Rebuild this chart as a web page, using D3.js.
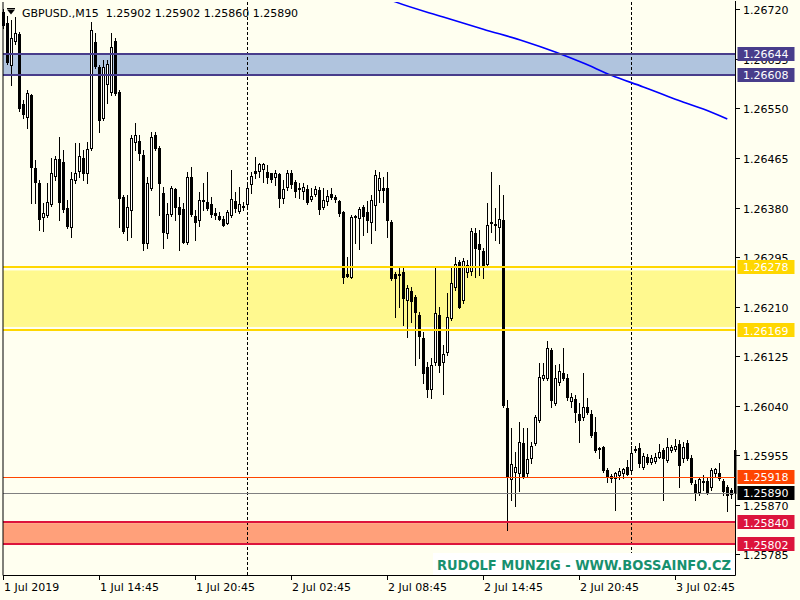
<!DOCTYPE html>
<html><head><meta charset="utf-8">
<script src="https://cdn.jsdelivr.net/npm/d3@7"></script>
<style>body{margin:0;background:#FFFFF0;}svg{display:block}</style>
</head><body>
<script>
// ---- DATA (GBPUSD M15, 1 Jul 2019 08:45 .. 3 Jul 2019 06:30) ----
const open=[1.26715,1.26697,1.26624,1.26666,1.26678,1.26557,1.26535,1.26573,1.26448,1.26422,1.26364,1.26367,1.26386,1.26434,1.26463,1.26458,1.26379,1.26346,1.26427,1.26443,1.26465,1.26439,1.26482,1.26664,1.26621,1.26533,1.26592,1.26578,1.26666,1.26578,1.26398,1.26346,1.26376,1.26492,1.26494,1.26470,1.26319,1.26413,1.26504,1.26482,1.26405,1.26336,1.26369,1.26412,1.26381,1.26377,1.26321,1.26432,1.26365,1.26358,1.26391,1.26389,1.26386,1.26370,1.26365,1.26360,1.26353,1.26367,1.26391,1.26374,1.26381,1.26386,1.26420,1.26443,1.26443,1.26446,1.26441,1.26439,1.26432,1.26437,1.26396,1.26415,1.26439,1.26424,1.26412,1.26408,1.26412,1.26394,1.26403,1.26410,1.26381,1.26391,1.26403,1.26398,1.26391,1.26372,1.26266,1.26261,1.26364,1.26362,1.26381,1.26372,1.26355,1.26384,1.26410,1.26413,1.26413,1.26355,1.26266,1.26264,1.26269,1.26221,1.26237,1.26226,1.26195,1.26156,1.26106,1.26068,1.26115,1.26195,1.26115,1.26132,1.26190,1.26243,1.26286,1.26221,1.26269,1.26271,1.26336,1.26317,1.26305,1.26283,1.26353,1.26350,1.26346,1.26358,1.26036,1.25914,1.25926,1.25924,1.25976,1.25924,1.25950,1.25976,1.26015,1.26087,1.26087,1.26135,1.26044,1.26080,1.26096,1.26087,1.26048,1.26051,1.26025,1.26020,1.26037,1.26025,1.25995,1.25965,1.25969,1.25929,1.25919,1.25916,1.25921,1.25924,1.25934,1.25929,1.25964,1.25967,1.25934,1.25952,1.25943,1.25945,1.25952,1.25964,1.25946,1.25964,1.25965,1.25974,1.25950,1.25976,1.25950,1.25905,1.25892,1.25910,1.25910,1.25900,1.25924,1.25924,1.25910,1.25900,1.25895,1.25964];
const high=[1.26721,1.26709,1.26702,1.26707,1.26681,1.26564,1.26581,1.26575,1.26461,1.26427,1.26388,1.26422,1.26465,1.26468,1.26501,1.26479,1.26393,1.26441,1.26491,1.26491,1.26479,1.26492,1.26698,1.26679,1.26624,1.26633,1.26633,1.26679,1.26671,1.26581,1.26401,1.26401,1.26504,1.26525,1.26504,1.26479,1.26432,1.26509,1.26509,1.26485,1.26415,1.26388,1.26417,1.26413,1.26398,1.26388,1.26441,1.26449,1.26376,1.26406,1.26422,1.26441,1.26398,1.26379,1.26372,1.26365,1.26376,1.26444,1.26406,1.26415,1.26389,1.26424,1.26441,1.26467,1.26456,1.26456,1.26453,1.26439,1.26444,1.26439,1.26427,1.26444,1.26444,1.26427,1.26422,1.26422,1.26418,1.26413,1.26417,1.26415,1.26413,1.26410,1.26413,1.26401,1.26393,1.26374,1.26295,1.26367,1.26367,1.26381,1.26384,1.26391,1.26401,1.26444,1.26441,1.26432,1.26441,1.26358,1.26269,1.26276,1.26276,1.26247,1.26243,1.26230,1.26201,1.26166,1.26115,1.26122,1.26276,1.26209,1.26144,1.26233,1.26276,1.26295,1.26290,1.26293,1.26290,1.26345,1.26345,1.26341,1.26310,1.26388,1.26441,1.26379,1.26418,1.26401,1.26049,1.26001,1.25960,1.26012,1.26001,1.26001,1.25977,1.26024,1.26113,1.26113,1.26151,1.26139,1.26110,1.26111,1.26139,1.26094,1.26062,1.26058,1.26044,1.26096,1.26053,1.26032,1.26020,1.25969,1.25971,1.25933,1.25922,1.25926,1.25933,1.25933,1.25946,1.25971,1.25971,1.25976,1.25958,1.25957,1.25955,1.25958,1.25974,1.25967,1.25984,1.25972,1.25983,1.25981,1.25977,1.25981,1.25955,1.25912,1.25917,1.25921,1.25916,1.25933,1.25933,1.25941,1.25914,1.25904,1.25898,1.25967];
const low=[1.26688,1.26626,1.26590,1.26661,1.26545,1.26533,1.26516,1.26388,1.26388,1.26341,1.26340,1.26364,1.26382,1.26427,1.26358,1.26372,1.26345,1.26329,1.26422,1.26432,1.26427,1.26422,1.26479,1.26619,1.26509,1.26530,1.26559,1.26573,1.26573,1.26346,1.26336,1.26324,1.26329,1.26479,1.26461,1.26307,1.26310,1.26410,1.26479,1.26367,1.26310,1.26328,1.26365,1.26358,1.26307,1.26319,1.26317,1.26365,1.26324,1.26348,1.26376,1.26376,1.26364,1.26360,1.26358,1.26348,1.26352,1.26364,1.26372,1.26370,1.26376,1.26382,1.26405,1.26430,1.26432,1.26424,1.26422,1.26424,1.26418,1.26381,1.26388,1.26410,1.26413,1.26398,1.26396,1.26394,1.26386,1.26391,1.26400,1.26369,1.26377,1.26384,1.26394,1.26389,1.26365,1.26250,1.26261,1.26259,1.26319,1.26309,1.26333,1.26338,1.26319,1.26341,1.26389,1.26389,1.26329,1.26255,1.26192,1.26209,1.26178,1.26158,1.26183,1.26110,1.26122,1.26079,1.26055,1.26053,1.26110,1.26098,1.26060,1.26127,1.26187,1.26238,1.26207,1.26216,1.26261,1.26264,1.26261,1.26264,1.26259,1.26279,1.26338,1.26324,1.26319,1.26037,1.25826,1.25878,1.25868,1.25893,1.25916,1.25917,1.25941,1.25972,1.26012,1.26084,1.26084,1.26037,1.26041,1.26075,1.26084,1.26049,1.26037,1.26012,1.25977,1.26015,1.26025,1.25986,1.25960,1.25950,1.25926,1.25909,1.25909,1.25861,1.25914,1.25916,1.25921,1.25926,1.25960,1.25934,1.25931,1.25940,1.25940,1.25941,1.25950,1.25878,1.25943,1.25960,1.25962,1.25900,1.25943,1.25946,1.25905,1.25878,1.25886,1.25895,1.25888,1.25895,1.25919,1.25912,1.25886,1.25859,1.25881,1.25860];
const close=[1.26693,1.26630,1.26671,1.26679,1.26551,1.26540,1.26576,1.26449,1.26424,1.26360,1.26370,1.26389,1.26439,1.26463,1.26389,1.26377,1.26348,1.26429,1.26439,1.26468,1.26439,1.26480,1.26685,1.26623,1.26530,1.26621,1.26626,1.26655,1.26576,1.26396,1.26340,1.26381,1.26499,1.26504,1.26473,1.26319,1.26422,1.26501,1.26482,1.26422,1.26338,1.26369,1.26413,1.26381,1.26369,1.26321,1.26432,1.26369,1.26355,1.26393,1.26393,1.26379,1.26369,1.26367,1.26360,1.26350,1.26372,1.26394,1.26379,1.26386,1.26382,1.26413,1.26434,1.26439,1.26455,1.26455,1.26432,1.26429,1.26439,1.26396,1.26412,1.26439,1.26420,1.26408,1.26413,1.26415,1.26389,1.26400,1.26412,1.26377,1.26393,1.26400,1.26398,1.26394,1.26370,1.26261,1.26262,1.26364,1.26365,1.26377,1.26365,1.26358,1.26393,1.26436,1.26430,1.26410,1.26358,1.26259,1.26259,1.26266,1.26225,1.26242,1.26219,1.26201,1.26159,1.26096,1.26068,1.26110,1.26199,1.26110,1.26128,1.26192,1.26250,1.26283,1.26209,1.26288,1.26281,1.26340,1.26310,1.26309,1.26279,1.26350,1.26355,1.26352,1.26360,1.26041,1.25917,1.25940,1.25934,1.25977,1.25917,1.25948,1.25971,1.26020,1.26089,1.26092,1.26139,1.26049,1.26087,1.26099,1.26087,1.26055,1.26055,1.26029,1.26015,1.26037,1.26029,1.25989,1.25964,1.25967,1.25929,1.25917,1.25916,1.25924,1.25928,1.25931,1.25922,1.25958,1.25965,1.25941,1.25953,1.25943,1.25950,1.25952,1.25960,1.25950,1.25969,1.25969,1.25971,1.25938,1.25969,1.25950,1.25909,1.25890,1.25914,1.25909,1.25892,1.25929,1.25931,1.25916,1.25893,1.25886,1.25888,1.25890];

const timeTickIndex=[0,24,48,72,96,120,144,168];
const timeTickLabels=["1 Jul 2019","1 Jul 14:45","1 Jul 20:45","2 Jul 02:45","2 Jul 08:45","2 Jul 14:45","2 Jul 20:45","3 Jul 02:45"];
const priceTicks=[1.26720,1.26635,1.26550,1.26465,1.26380,1.26295,1.26210,1.26125,1.26040,1.25955,1.25870,1.25785];
const daySeparatorIndex=[61,157];
const maIndex=[92,98,110,120,130,138,145,152,160,168,175,181];
const maValue=[1.26750,1.26733,1.26707,1.26686,1.26666,1.26647,1.26628,1.26607,1.26587,1.26566,1.26549,1.26532];
const blueZone=[1.26608,1.26644];
const yellowZone=[1.26169,1.26278];
const redZone=[1.25802,1.25840];
const orangeLevel=1.25918;
const bidLevel=1.25890;
const headerText="GBPUSD.,M15  1.25902 1.25902 1.25860 1.25890";
const watermark="RUDOLF MUNZIG - WWW.BOSSAINFO.CZ";

// ---- LAYOUT ----
const W=800,H=600, L=3, R=735.5, T=2, B=575.5;
const FONT="DejaVu Sans";
const n=open.length;
const x=d3.scaleLinear().domain([0,n-1]).range([3.3,3.3+4*(n-1)]);
const y=d3.scaleLinear().domain([1.25785,1.26720]).range([554.15,9.44]);
const col=i=>Math.floor(x(i));
const ry=v=>Math.round(y(v));

const svg=d3.select("body").append("svg").attr("width",W).attr("height",H);
svg.append("rect").attr("width",W).attr("height",H).attr("fill","#FFFFF0");
svg.append("clipPath").attr("id","plot").append("rect").attr("x",L-1).attr("y",T).attr("width",R-L+2).attr("height",B-T);
const g=svg.append("g").attr("clip-path","url(#plot)");

// zone fills
g.append("rect").attr("x",L).attr("width",R-L).attr("y",y(blueZone[1])).attr("height",y(blueZone[0])-y(blueZone[1])).attr("fill","#B0C4DE");
g.append("rect").attr("x",L).attr("width",R-L).attr("y",y(yellowZone[1])+3.5).attr("height",y(yellowZone[0])-y(yellowZone[1])-7).attr("fill","#FFF98F");
g.append("rect").attr("x",L).attr("width",R-L).attr("y",y(redZone[1])+1).attr("height",y(redZone[0])-y(redZone[1])-2).attr("fill","#FFA07A");

// day separators
g.selectAll("line.sep").data(daySeparatorIndex).join("line")
 .attr("x1",d=>col(d)+0.5).attr("x2",d=>col(d)+0.5).attr("y1",T).attr("y2",B)
 .attr("stroke","#000").attr("stroke-width",1).attr("stroke-dasharray","3,2");

// candles
const idx=d3.range(n);
g.selectAll("rect.wick").data(idx).join("rect")
 .attr("x",i=>col(i)).attr("width",1)
 .attr("y",i=>ry(high[i])).attr("height",i=>ry(low[i])-ry(high[i])+1).attr("fill","#000");
idx.forEach(i=>{
  const top=ry(Math.max(open[i],close[i])), bot=ry(Math.min(open[i],close[i]));
  const c=col(i);
  if(close[i]<open[i]){
    g.append("rect").attr("x",c-1).attr("width",3).attr("y",top).attr("height",Math.max(1,bot-top+1)).attr("fill","#000");
  } else if(bot-top<1){
    g.append("rect").attr("x",c-1).attr("width",3).attr("y",top).attr("height",1).attr("fill","#000");
  } else {
    g.append("rect").attr("x",c-0.5).attr("width",2).attr("y",top+0.5).attr("height",bot-top).attr("fill","#FFFFFF").attr("stroke","#000").attr("stroke-width",1);
  }
});

// moving average
g.append("path").datum(maIndex.map((d,k)=>[x(d),y(maValue[k])]))
 .attr("d",d3.line().curve(d3.curveMonotoneX)).attr("fill","none").attr("stroke","#0000FF").attr("stroke-width",1.6);

// level lines
function hline(p,color,w){
  const yy=w===2?Math.round(y(p)):Math.round(y(p))+0.5;
  g.append("line").attr("x1",L).attr("x2",R).attr("y1",yy).attr("y2",yy).attr("stroke",color).attr("stroke-width",w);
}
blueZone.forEach(p=>hline(p,"#483D8B",2));
yellowZone.forEach(p=>hline(p,"#FFD700",2));
redZone.forEach(p=>hline(p,"#DC143C",2));
hline(orangeLevel,"#FF4500",1);
hline(bidLevel,"#808080",1);

// watermark
svg.append("rect").attr("x",433).attr("y",553).attr("width",R-433).attr("height",B-553).attr("fill","#FFFFFF");
svg.append("text").attr("x",437).attr("y",570).attr("font-family",FONT).attr("font-weight","bold").attr("font-size",14)
 .attr("textLength",294).attr("lengthAdjust","spacingAndGlyphs").attr("fill","#17906E").text(watermark);

// frame
svg.append("line").attr("x1",L-0.5+0.5).attr("x2",L).attr("y1",T).attr("y2",B).attr("stroke","#000");
svg.append("line").attr("x1",R).attr("x2",R).attr("y1",T-1).attr("y2",B).attr("stroke","#000");
svg.append("line").attr("x1",L).attr("x2",R).attr("y1",B).attr("y2",B).attr("stroke","#000");

// price axis
const pa=svg.append("g");
priceTicks.forEach(p=>{
  const yy=Math.round(y(p))+0.5;
  pa.append("line").attr("x1",R).attr("x2",740).attr("y1",yy).attr("y2",yy).attr("stroke","#000");
  pa.append("text").attr("x",743).attr("y",y(p)+5).attr("font-family",FONT).attr("font-size",11).attr("fill","#000").text(p.toFixed(5));
});
// time axis
timeTickIndex.forEach((d,k)=>{
  const xx=col(d)+0.5;
  svg.append("line").attr("x1",xx).attr("x2",xx).attr("y1",B).attr("y2",580).attr("stroke","#000");
  svg.append("text").attr("x",col(d)+1).attr("y",591).attr("font-family",FONT).attr("font-size",11).attr("fill","#000").text(timeTickLabels[k]);
});

// level labels
function label(p,bg){
  const yy=y(p);
  svg.append("rect").attr("x",737.5).attr("y",Math.round(yy)-7).attr("width",57).attr("height",14).attr("fill",bg);
  svg.append("text").attr("x",743).attr("y",yy+4.5).attr("font-family",FONT).attr("font-size",11).attr("fill","#FFFFFF").text(p.toFixed(5));
}
blueZone.forEach(p=>label(p,"#483D8B"));
yellowZone.forEach(p=>label(p,"#FFD700"));
label(orangeLevel,"#FF4500");
label(bidLevel,"#000000");
redZone.forEach(p=>label(p,"#DC143C"));

// header
svg.append("path").attr("d","M7,9.5 L15,9.5 L11,14.5 Z").attr("fill","#000");
svg.append("line").attr("x1",7).attr("x2",15).attr("y1",8.5).attr("y2",8.5).attr("stroke","#000");
svg.append("text").attr("x",22).attr("y",16.5).attr("font-family",FONT).attr("font-size",11).attr("fill","#000")
 .style("white-space","pre").text(headerText);
</script>
</body></html>
